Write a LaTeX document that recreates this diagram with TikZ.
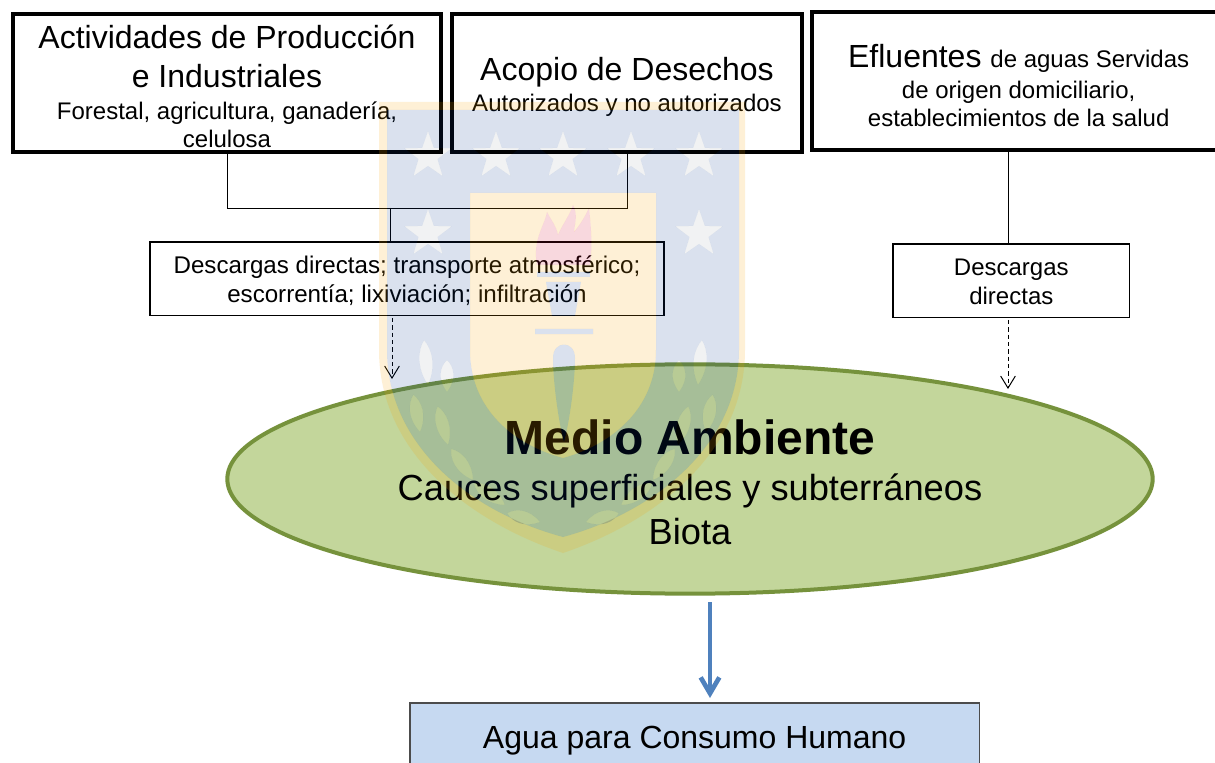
\documentclass[tikz,border=0pt]{standalone}
\usepackage{fontspec}
\setmainfont{Liberation Sans}
\usetikzlibrary{arrows.meta,shapes.geometric}
\definecolor{ellfill}{HTML}{C3D69B}
\definecolor{elledge}{HTML}{76923C}
\definecolor{agua}{HTML}{C6D9F1}
\definecolor{flecha}{HTML}{4F81BD}
\definecolor{wyellow}{rgb}{.975,.634,0}
\definecolor{wblue}{rgb}{0,.21,.54}
\definecolor{wstar}{rgb}{0,.1,.2}
\definecolor{wpink}{rgb}{.84,0,.157}
\newcommand{\fs}[1]{\fontsize{#1}{#1}\selectfont}
\newcommand{\pOuter}{(379,102) -- (745,102) -- (745,350) .. controls (745,450) and (660,520) .. (563,553) .. controls (465,520) and (379,450) .. (379,350) -- cycle}
\newcommand{\pBlue}{(387,110) -- (739,110) -- (739,350) .. controls (739,445) and (655,512) .. (563,537) .. controls (470,512) and (387,445) .. (387,350) -- cycle}
\newcommand{\pPanel}{(470,193) -- (656,193) -- (656,350) .. controls (656,410) and (610,445) .. (563,458) .. controls (515,445) and (470,410) .. (470,350) -- cycle}
\newcommand{\pFlame}{(537,265) .. controls (532,240) and (545,225) .. (547,212) .. controls (552,222) and (556,225) .. (558,235) .. controls (562,225) and (570,215) .. (573,205) .. controls (578,215) and (575,222) .. (574,232) .. controls (580,225) and (586,215) .. (589,208) .. controls (592,235) and (592,250) .. (590,265) -- cycle}
\newcommand{\pTorch}{(537,272) rectangle (590,277) (546,282) -- (581,282) -- (575,316) -- (552,316) -- cycle (535,329) rectangle (593,334) (553,358) .. controls (553,340) and (575,340) .. (575,358) .. controls (575,380) and (570,420) .. (564,442) .. controls (558,420) and (553,380) .. (553,358) -- cycle}
\newcommand{\pStar}[2]{plot[samples at={0,...,9},variable=\k] ({#1+(mod(\k,2)==0?25:10)*sin(36*\k)},{#2-(mod(\k,2)==0?25:10)*cos(36*\k)}) -- cycle}
\newcommand{\pLeaf}[4]{{[shift={(#1,#2)},rotate=#3] (0,0) .. controls (-10,-#4*0.4) and (-7,-#4*0.8) .. (0,-#4) .. controls (7,-#4*0.8) and (10,-#4*0.4) .. (0,0) -- cycle}}
\newcommand{\pStars}{\pStar{428}{156} \pStar{496}{156} \pStar{563}{156} \pStar{631}{156} \pStar{699}{156} \pStar{428}{234} \pStar{699}{234}}
\newcommand{\pLeaves}{\pLeaf{428}{385}{5}{45} \pLeaf{447}{392}{0}{32} \pLeaf{420}{432}{10}{38} \pLeaf{448}{445}{15}{40} \pLeaf{473}{480}{35}{38} \pLeaf{505}{505}{55}{38} \pLeaf{540}{522}{75}{34}
 \pLeaf{698}{385}{-5}{45} \pLeaf{679}{392}{0}{32} \pLeaf{706}{432}{-10}{38} \pLeaf{678}{445}{-15}{40} \pLeaf{653}{480}{-35}{38} \pLeaf{621}{505}{-55}{38} \pLeaf{586}{522}{-75}{34}}
\tikzset{
  bigbox/.style={draw=black,line width=3pt,outer sep=0pt,fill=none,inner sep=0pt,align=center,anchor=north west},
  thinbox/.style={draw=black,line width=1.2pt,outer sep=0pt,fill=none,inner sep=0pt,align=center,anchor=north west},
  conn/.style={draw=black,line width=0.7pt},
  dasharrow/.style={draw=black,line width=0.75pt,dash pattern=on 3.2pt off 2.3pt,-{Straight Barb[length=9pt,width=11pt,line width=0.75pt]}},
  bluearrow/.style={draw=flecha,line width=3.5pt,-{Straight Barb[length=12pt,width=14pt,line width=3.5pt]}},
  wy/.style={fill=wyellow,fill opacity=.161,even odd rule},
  wb/.style={fill=wblue,fill opacity=.145,even odd rule},
  ws/.style={fill=wstar,fill opacity=.055},
  wp/.style={fill=wpink,fill opacity=.153}
}
\begin{document}
\begin{tikzpicture}[x=0.75pt,y=-0.75pt]
\useasboundingbox (0,0) rectangle (1215,763);
\fill[white] (0,0) rectangle (1215,763);
% boxes
\node[bigbox,minimum width=321pt,minimum height=103.5pt] (act) at (13,14)
  {\rule{0pt}{23pt}\fs{24}Actividades de Producción\\[10pt]\fs{24}e Industriales\\[10pt]\fs{18}Forestal, agricultura, ganadería,\\[3pt]\fs{18}celulosa};
\node[bigbox,minimum width=262.5pt,minimum height=103.5pt] (aco) at (452,14)
  {\rule{0pt}{23pt}\fs{24}Acopio de Desechos\\[4pt]\fs{18}Autorizados y no autorizados};
\node[bigbox,minimum width=310pt,minimum height=103.5pt] (efl) at (812,12)
  {\rule{0pt}{24pt}\fs{24}Efluentes \fs{18}de aguas Servidas\\[5.5pt]\fs{18}de origen domiciliario,\\[3.75pt]\fs{18}establecimientos de la salud};
\node[thinbox,minimum width=385.5pt,minimum height=55pt] (desc1) at (150,242)
  {\rule{0pt}{16.5pt}\fs{18.1}Descargas directas; transporte atmosférico;\\[4pt]\fs{18.1}escorrentía; lixiviación; infiltración};
\node[thinbox,minimum width=177.5pt,minimum height=55pt] (desc2) at (893,244)
  {\rule{0pt}{14pt}\fs{18}Descargas\\[4pt]\fs{18}directas};
\node[draw=elledge,line width=3pt,outer sep=0pt,fill=ellfill,ellipse,inner sep=0pt,minimum width=694pt,minimum height=172pt,align=center] (med) at (690,479)
  {\rule{0pt}{31pt}\fs{36}\textbf{Medio Ambiente}\\[13pt]\fs{27.2}Cauces superficiales y subterráneos\\[7pt]\fs{27.2}Biota};
\node[draw=black!70,line width=1pt,outer sep=0pt,fill=agua,inner sep=0pt,minimum width=427pt,minimum height=57pt,anchor=north west,align=center] (agu) at (410,703)
  {\fs{24}Agua para Consumo Humano};
% connectors
\coordinate (c1) at (227,208);
\coordinate (c2) at (627,208);
\coordinate (c3) at (390,208);
\coordinate (d1a) at (392,318);
\coordinate (d1b) at (392,379);
\coordinate (d2a) at (1008,320);
\coordinate (d2b) at (1008,389);
\coordinate (b1) at (710,602);
\coordinate (b2) at (710,698);
\draw[conn] (c1 |- act.south) -- (c1) -- (c2) -- (c2 |- aco.south);
\draw[conn] (c3) -- (c3 |- desc1.north);
\draw[conn] (d2a |- efl.south) -- (d2a |- desc2.north);
\draw[dasharrow] (d1a) -- (d1b);
\draw[dasharrow] (d2a) -- (d2b);
\draw[bluearrow] (b1) -- (b2);
% watermark (disjoint translucent regions)
\path[wy] \pOuter \pBlue;
\path[wb] \pBlue \pPanel \pStars \pLeaves;
\path[ws] \pStars;
\path[ws] \pLeaves;
\path[wy] \pPanel \pFlame \pTorch;
\path[wp] \pFlame;
\path[wb] \pTorch;
\end{tikzpicture}
\end{document}
